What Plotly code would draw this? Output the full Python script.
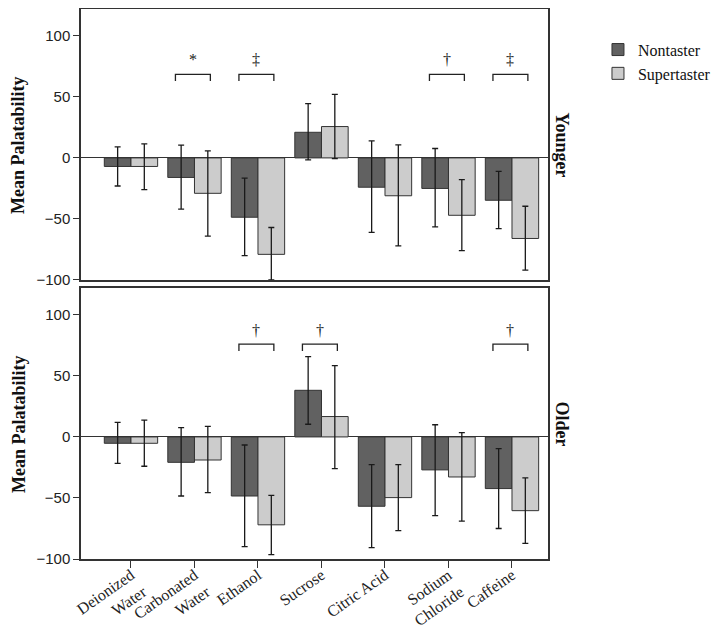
import plotly.graph_objects as go

categories = ["Deionized<br>Water", "Carbonated<br>Water", "Ethanol", "Sucrose",
              "Citric Acid", "Sodium<br>Chloride", "Caffeine"]

# Younger panel
young_non = [-7, -16, -48.6, 21, -24, -25, -34.7]
young_non_hi = [9, 10.4, -16.6, 44.5, 14, 7.7, -11]
young_non_lo = [-23, -42, -80, -1.6, -61, -56.5, -58]
young_sup = [-7, -29, -79, 25.7, -31, -47, -66]
young_sup_hi = [11.5, 5.7, -57, 52, 10.7, -17.7, -39.6]
young_sup_lo = [-26, -64, -100, -0.5, -72, -76, -92]

# Older panel
old_non = [-5.2, -20.8, -48.4, 38.2, -56.8, -27, -42.3]
old_non_hi = [12, 7.7, -6.6, 65.8, -22.7, 10, -9.6]
old_non_lo = [-21.6, -48.4, -89.9, 10.4, -90.7, -64.5, -75]
old_sup = [-5.2, -18.9, -72, 16.7, -49.7, -32.8, -60.4]
old_sup_hi = [13.7, 8.7, -47.8, 58.5, -22.7, 3.6, -33.6]
old_sup_lo = [-24, -45.6, -96.4, -26, -76.8, -69, -87.2]

# significance markers: (category index, symbol)
young_sig = [(1, "*"), (2, "‡"), (5, "†"), (6, "‡")]
old_sig = [(2, "†"), (3, "†"), (6, "†")]

DARK = "#616161"
LIGHT = "#cccccc"
EDGE = "#333333"
SERIF = "Liberation Serif, Times New Roman, serif"
NARROW = "Liberation Sans Narrow, Arial Narrow, Liberation Sans, sans-serif"

xs = list(range(len(categories)))
fig = go.Figure()


def add_pair(non, non_hi, non_lo, sup, sup_hi, sup_lo, xa, ya, show):
    for name, vals, hi, lo, color, off in [
        ("Nontaster", non, non_hi, non_lo, DARK, -0.42),
        ("Supertaster", sup, sup_hi, sup_lo, LIGHT, 0.0),
    ]:
        fig.add_trace(go.Bar(
            x=xs, y=vals, name=name, width=0.42, offset=off,
            marker=dict(color=color, line=dict(color=EDGE, width=1)),
            error_y=dict(type="data", symmetric=False,
                         array=[h - v for h, v in zip(hi, vals)],
                         arrayminus=[v - l for l, v in zip(lo, vals)],
                         color="#1a1a1a", thickness=1.3, width=3),
            xaxis=xa, yaxis=ya, showlegend=show, legendgroup=name,
        ))


add_pair(young_non, young_non_hi, young_non_lo, young_sup, young_sup_hi, young_sup_lo,
         "x2", "y2", True)
add_pair(old_non, old_non_hi, old_non_lo, old_sup, old_sup_hi, old_sup_lo,
         "x", "y", False)

shapes = []
annotations = []
for sig, xr, yr, top, drop, sym_y in [(young_sig, "x2", "y2", 68.4, 5.4, 81),
                                      (old_sig, "x", "y", 76, 5.5, 87)]:
    for i, sym in sig:
        x0, x1 = i - 0.3, i + 0.25
        shapes.append(dict(type="path", xref=xr, yref=yr,
                           path=f"M {x0},{top - drop} L {x0},{top} L {x1},{top} L {x1},{top - drop}",
                           line=dict(color="#222", width=1.3)))
        annotations.append(dict(x=(x0 + x1) / 2, y=sym_y, xref=xr, yref=yr, text=sym,
                                showarrow=False, font=dict(family=SERIF, size=16, color="#222")))

for yc in [0.7537, 0.2463]:
    annotations.append(dict(x=-0.134, y=yc, xref="paper", yref="paper",
                            xanchor="center", yanchor="middle",
                            text="<b>Mean Palatability</b>", textangle=-90, showarrow=False,
                            font=dict(family=SERIF, size=18, color="#111")))
for yc, label in [(0.7537, "<b>Younger</b>"), (0.2463, "<b>Older</b>")]:
    annotations.append(dict(x=1.03, y=yc, xref="paper", yref="paper",
                            xanchor="center", yanchor="middle",
                            text=label, textangle=90, showarrow=False,
                            font=dict(family=SERIF, size=18, color="#111")))

yax = dict(range=[-100, 122], tickvals=[-100, -50, 0, 50, 100], ticks="outside", ticklen=6,
           tickcolor=EDGE, showline=True, mirror=True, linecolor=EDGE, linewidth=1.5,
           showgrid=False, zeroline=True, zerolinecolor=EDGE, zerolinewidth=1.2,
           automargin=False, tickfont=dict(family=NARROW, size=15, color="#222"))
xax = dict(range=[-0.787, 6.567], showline=True, mirror=True, linecolor=EDGE, linewidth=1.5,
           showgrid=False, zeroline=False, automargin=False)

# page body has an 8px margin, so the figure is shrunk by that much
fig.update_layout(
    width=716, height=621,
    margin=dict(l=73, r=176, t=1, b=70),
    plot_bgcolor="white", paper_bgcolor="white",
    barmode="overlay",
    xaxis=dict(xax, anchor="y", tickvals=xs, ticktext=categories, ticks="outside", ticklen=7,
               tickcolor=EDGE, tickangle=-35, ticklabelstandoff=-8,
               tickfont=dict(family=SERIF, size=16, color="#222")),
    yaxis=dict(yax, domain=[0, 0.4927], anchor="x"),
    xaxis2=dict(xax, anchor="y2", showticklabels=False, ticks=""),
    yaxis2=dict(yax, domain=[0.5073, 1], anchor="x2"),
    legend=dict(x=1.107, y=0.957, xanchor="left", yanchor="top", tracegroupgap=0,
                itemwidth=30, borderwidth=0,
                font=dict(family=SERIF, size=16, color="#111"), bgcolor="rgba(0,0,0,0)"),
    shapes=shapes, annotations=annotations,
    showlegend=True,
)

fig.write_html("out.html")
